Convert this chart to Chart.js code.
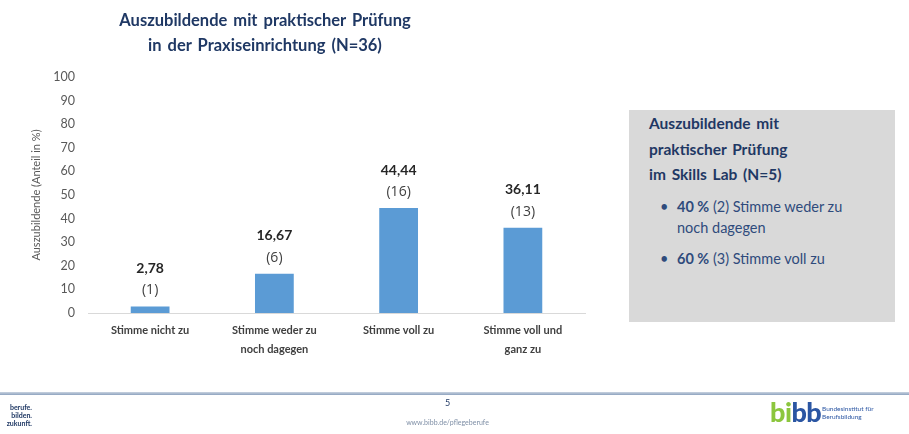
<!DOCTYPE html>
<html lang="de">
<head>
<meta charset="UTF-8">
<title>Auszubildende mit praktischer Prüfung</title>
<script src="https://cdn.jsdelivr.net/npm/chart.js"></script>
<style>
    body { margin: 0; width: 909px; height: 434px; position: relative; overflow: hidden; background: #fff; font-family: Lato, 'Open Sans', sans-serif; }
    #chartWrap { position: absolute; left: 0; top: 0; width: 909px; height: 434px; }
    .title { position: absolute; left: 65px; width: 400px; top: 8px; text-align: center; color: #1f3864; font-weight: bold; font-size: 16.5px; line-height: 25px; word-spacing: 2px; }
    .box { position: absolute; left: 629px; top: 110px; width: 266px; height: 212px; background: #d9d9d9; color: #1f3864; }
    .box h3 { margin: 0; position: absolute; left: 20px; top: 1px; font-size: 15.5px; line-height: 25.5px; font-weight: bold; word-spacing: 2px; }
    .box ul { position: absolute; left: 0; top: 86px; margin: 0; padding: 0; list-style: none; font-size: 14.5px; color: #2f4b7c; }
    .box li { position: relative; padding-left: 48px; line-height: 21px; margin-bottom: 10px; }
    .box li::before { content: "•"; position: absolute; left: 31px; }
    .footline { position: absolute; left: 0; top: 392px; width: 909px; height: 3px; background: linear-gradient(#c9d3e0, #8ea3bf); }
    .pg { position: absolute; left: 0; width: 895px; top: 397px; text-align: center; font-size: 9px; color: #1f3864; }
    .url { position: absolute; left: 0; width: 895px; top: 418px; text-align: center; font-size: 7px; color: #7f8fa6; }
    .claim { position: absolute; left: -4px; top: 403px; font-size: 7px; line-height: 8px; font-weight: bold; color: #1f3864; text-align: right; width: 36px; }
    .logo { position: absolute; left: 770px; top: 395px; font-size: 27px; font-weight: 900; letter-spacing: -0.5px; }
    .logo .g { color: #8cc63e; }
    .logo .b { color: #2b56a3; }
    .logotxt { position: absolute; left: 822px; top: 405px; font-size: 6.5px; line-height: 8px; color: #2b56a3; }
</style>
</head>
<body>
<div id="chartWrap"><canvas id="myChart" width="909" height="434"></canvas></div>

<div class="title">Auszubildende mit praktischer Prüfung<br>in der Praxiseinrichtung (N=36)</div>

<div class="box">
    <h3>Auszubildende mit<br>praktischer Prüfung<br>im Skills Lab (N=5)</h3>
    <ul>
        <li><b>40 %</b> (2) Stimme weder zu<br>noch dagegen</li>
        <li><b>60 %</b> (3) Stimme voll zu</li>
    </ul>
</div>

<div class="footline"></div>
<div class="claim">berufe.<br>bilden.<br>zukunft.</div>
<div class="pg">5</div>
<div class="url">www.bibb.de/pflegeberufe</div>
<div class="logo"><span class="g">bi</span><span class="b">bb</span></div>
<div class="logotxt">Bundesinstitut für<br>Berufsbildung</div>

<script>
    // Data
    const categories = [['Stimme nicht zu'], ['Stimme weder zu', 'noch dagegen'], ['Stimme voll zu'], ['Stimme voll und', 'ganz zu']];
    const percentValues = [2.78, 16.67, 44.44, 36.11];
    const countValues = [1, 6, 16, 13];
    const yTicks = [0, 10, 20, 30, 40, 50, 60, 70, 80, 90, 100];

    // Value labels above bars
    const barLabels = {
        id: 'barLabels',
        afterDatasetsDraw(chart) {
            const c = chart.ctx;
            const meta = chart.getDatasetMeta(0);
            c.save();
            c.textAlign = 'center';
            c.textBaseline = 'middle';
            meta.data.forEach((bar, i) => {
                c.fillStyle = '#262626';
                c.font = 'bold 14px Lato, sans-serif';
                c.fillText(percentValues[i].toFixed(2).replace('.', ','), bar.x, bar.y - 38);
                c.fillStyle = '#404040';
                c.font = '14px "Open Sans", sans-serif';
                c.fillText('(' + countValues[i] + ')', bar.x, bar.y - 16);
            });
            c.restore();
        }
    };

    const ctx = document.getElementById('myChart').getContext('2d');
    new Chart(ctx, {
        type: 'bar',
        data: {
            labels: categories,
            datasets: [{
                data: percentValues,
                backgroundColor: '#5b9bd5',
                barPercentage: 0.8,
                categoryPercentage: 0.39
            }]
        },
        options: {
            responsive: false,
            animation: false,
            layout: { padding: { left: 20, top: 77, right: 324, bottom: 0 } },
            plugins: { legend: { display: false }, tooltip: { enabled: false } },
            scales: {
                x: {
                    grid: { display: false, drawTicks: false },
                    border: { color: '#d9d9d9', width: 1 },
                    ticks: { color: '#404040', font: { family: 'Lato, sans-serif', size: 11, weight: 'bold', lineHeight: 1.7 }, padding: 8, maxRotation: 0 },
                    afterFit(scale) { scale.height = 121; }
                },
                y: {
                    min: 0, max: 100,
                    afterBuildTicks(scale) { scale.ticks = yTicks.map(v => ({ value: v })); },
                    grid: { display: false, drawTicks: false },
                    border: { display: false },
                    ticks: { color: '#595959', font: { family: 'Lato, sans-serif', size: 12.5 }, padding: 13 },
                    title: { display: true, text: 'Auszubildende (Anteil in %)', color: '#595959', font: { family: 'Lato, sans-serif', size: 11 }, padding: { top: 10, bottom: 0 } },
                    afterFit(scale) { scale.width = 68; }
                }
            }
        },
        plugins: [barLabels]
    });
</script>
</body>
</html>
